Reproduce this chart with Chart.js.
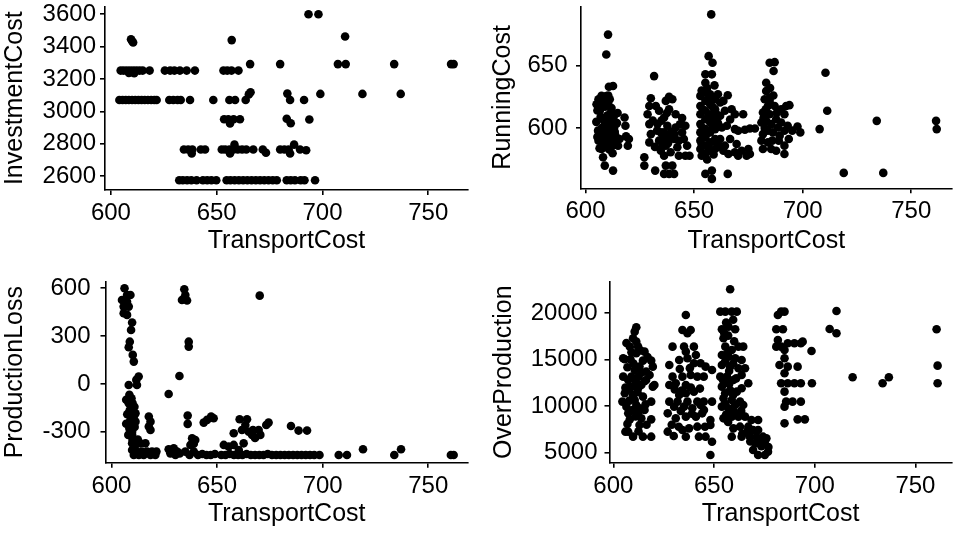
<!DOCTYPE html>
<html>
<head>
<meta charset="utf-8">
<script src="https://cdn.jsdelivr.net/npm/chart.js@4.4.1/dist/chart.umd.min.js"></script>
<style>
  html, body { margin: 0; padding: 0; background: #fff; }
  #wrap { position: relative; width: 956px; height: 535px; overflow: hidden; }
  canvas { position: absolute; }
</style>
</head>
<body>
<div id="wrap">
  <canvas id="investment" width="478" height="267" style="left:0;top:0"></canvas>
  <canvas id="running" width="478" height="267" style="left:478px;top:0"></canvas>
  <canvas id="loss" width="478" height="267" style="left:0;top:268px"></canvas>
  <canvas id="overprod" width="478" height="267" style="left:478px;top:268px"></canvas>
</div>
<script>
// tick values for each axis
const transportTicks = [600, 650, 700, 750]
const investmentTicks = [2600, 2800, 3000, 3200, 3400, 3600]
const runningTicks = [600, 650]
const lossTicks = [-300, 0, 300, 600]
const overProductionTicks = [5000, 10000, 15000, 20000]

// each entry: [TransportCost, value]
const investmentCost = [
  [693.4,3600],[698.1,3600],[710.7,3462],[609.5,3445],[610.5,3425],[610,3435],[657.1,3440],
  [665.8,3292],[680,3292],[707.3,3292],[711,3292],[733.9,3292],[760.8,3292],[762,3292],
  [604.6,3252],[606,3252],[607.5,3252],[609,3252],[610.5,3252],[612,3252],[613.5,3252],[615,3252],[618.3,3252],[608.5,3238],[611,3236],
  [625.5,3252],[628,3252],[630,3252],[632.6,3252],[635.8,3252],[639.7,3252],[653.2,3252],[655,3252],[657,3252],[660.3,3252],
  [665.2,3105],[666,3118],[683.4,3110],[699,3108],[718.9,3108],[737,3108],
  [604,3070],[605.5,3070],[607,3070],[608.5,3070],[610,3070],[611.5,3070],[613,3070],[614.5,3070],[616,3070],[617.5,3070],[619,3070],[620.5,3070],[621.6,3070],
  [627.6,3070],[629.5,3070],[631.5,3070],[633,3070],[637.4,3070],[648.4,3070],[656,3070],[658.7,3070],[663.7,3070],[684.7,3070],[691.3,3070],
  [653.5,2952],[655.5,2952],[658,2952],[661,2952],[656.3,2925],[683.1,2955],[685,2927],[693.8,2950],
  [634.5,2765],[636.5,2765],[638.5,2765],[642.5,2765],[644.5,2765],[638.2,2740],[652.4,2765],[654,2765],[656,2765],[658,2765],[660,2765],[662,2765],[664,2765],[667.3,2765],
  [658.4,2795],[656.3,2740],[671.8,2765],[673.3,2745],[680,2765],[682,2765],[684,2765],[686.6,2795],[684.7,2740],[689.4,2765],[692.3,2760],
  [632.3,2575],[634,2575],[636,2575],[638,2575],[640.5,2575],[643.5,2575],[645.5,2575],[647.5,2575],[649.8,2575],
  [654.7,2575],[656.5,2575],[658.5,2575],[660.5,2575],[662.5,2575],[664.5,2575],[666.5,2575],[668.5,2575],[670.5,2575],[672.5,2575],[674.5,2575],[676.5,2575],[678.4,2575],
  [683.1,2575],[685,2575],[687,2575],[689.7,2575],[691.5,2575],[696.5,2575]
]

const runningCost = [
  [610.4,674.6],[609.6,658.7],[612.7,633.6],[610.8,633],[608.1,576.7],[608.9,570.1],[612.7,566.1],
  [607.4,625.7],[609.6,625.5],[607.9,619],[605.1,619],[606.6,613.8],[611.2,623],[612,612.4],
  [605.5,614],[605,605],[605.8,598],[606,590],[606.5,584],[607,609],[607.5,600],[608,594],[608.5,587],[609,617],[609.2,603],[609.5,596],[610,610],[610.5,590],
  [611,583],[611.2,605],[611.5,598],[612,616],[612.2,592],[612.5,586],[613,609],[613.3,601],[613.8,594],[614,588],[614.5,604],[608,621],[610.5,626],[606,623],[614.8,612],
  [606.5,596],[608.5,606],[610,600],[611.5,612],[613.5,597],[607,592],[610.5,619],[609,589],[612.5,580],[605.5,593],
  [618,608.5],[618.4,601.9],[618.7,593.4],[620,591.3],[619.5,586],[615,586],[615.7,591.3],[607.4,583.3],[609.6,584.7],
  [631.6,641.5],[630.1,623.8],[629.4,617.7],[628.6,611.1],[629.4,603.2],[630.1,595.2],[629.4,588.6],[627.1,576.7],[627.1,570.1],
  [632.4,617.7],[633.9,613.8],[633.2,603.2],[634.7,596.6],[633.9,590],[634.7,582],[632.1,566.1],
  [637,621.7],[638.5,615.1],[636.2,608.5],[637.7,601.9],[636.2,596.6],[638.5,592.6],[637,586],[639.2,580.7],[636.2,578],
  [637,570.1],[636.2,563.5],[638.5,563.5],[640.8,563.5],[640,570.1],
  [640,623],[641.5,611.1],[641.5,600.5],[640.8,591.3],[642.3,584.7],[643,578],
  [644.5,596.6],[646,601.9],[645.3,591.3],[646.8,586],[646,578],[647.9,578],
  [638.5,625],[635,606],[639.5,597],[643,590],[635.5,586],
  [631,606],[633,598],[635.5,592],[638,588],[641,595],[643.5,603],[632,585],[637.5,612],[644.5,608],
  [657.9,690.7],[656.7,657.4],[658.5,652.1],[655.2,642.9],[658.2,642.9],[659.4,634.1],[655.2,636.2],
  [652.9,625.7],[652.9,617.7],[652.9,611.1],[652.9,603.2],[652.9,596.6],[652.9,590],[652.9,583.3],
  [655.2,628.3],[655.2,621.7],[655.2,613.8],[655.2,607.1],[655.2,599.2],[655.2,592.6],[655.2,586],[655.2,579.4],
  [657.4,627],[657.4,619],[657.4,611.1],[657.4,604.5],[657.4,596.6],[657.4,588.6],[657.4,582],
  [659.7,623],[659.7,615.1],[659.7,607.1],[659.7,599.2],[659.7,591.3],[659.7,583.3],
  [662,620.4],[662,609.8],[662.8,600.5],[662,591.3],[663.5,582],
  [653.5,630],[656,632],[654,615],[656.5,609],[658.5,601],[654,594],[656.5,585],[660.5,588],[653.5,587],[661,604],
  [658.5,617],[661,627],[654,600],[656,596],[660,612],[657,624],[659,579],[662.5,585],[656,575],[653.5,578],
  [655.2,563.5],[658.2,566.1],[658.2,559.5],[665.5,563.5],
  [665.5,626.2],[663.5,621.7],[664.2,613.8],[667.3,615.1],[668.8,611.1],[666.6,606.9],[665.1,601.9],[668.8,599.2],[670.3,597.9],[673.4,598.7],[675.7,599.7],[678,599.7],[672.6,611.1],
  [666.6,591.3],[669.6,587.3],[664.2,586],[665.8,579.4],[668.8,580.7],[671.9,582],[675,583.3],[675.7,579.4],[674.2,578],[670.3,578],
  [684.8,652.1],[687.1,652.6],[686.6,645.5],[683.2,636.2],
  [683.2,629.6],[682.5,623],[684.8,624.3],[684,617.7],[681.7,612.4],[684.8,611.1],[683.2,605.8],[681,604.5],[685.5,603.2],[687.8,607.1],[684,598],[681.7,595.2],
  [686.3,596.6],[681,590],[684,588.6],[681.7,583.3],[685.5,583.3],[687.8,582],[684.8,621.7],[687.1,617.7],[690.1,615.1],[692.4,617.7],[693.9,618.3],[691.6,611.1],
  [690.1,604.5],[688.6,600.5],[691.6,597.9],[693.1,601.9],[689.4,594],[691.6,586],[691.6,579.4],[697.6,601.3],[698.9,596.6],[695.2,598],[693.6,591.3],
  [682.5,600],[686,590],[683,615],[688,612],[689,590],[682,608],[686.5,626],[685,632],
  [710.5,644.2],[711.3,613.8],[707.8,599.2],[718.9,564.3],[734.1,605.8],[737.1,564.3],[761.4,605.8],[761.7,599.2]
]

const productionLoss = [
  [606.2,600],[607.4,558],[609,558],[605,527],[607.4,516],[605.8,485],[608.2,485],[605.8,443],[607.4,433],[609.8,385],[609.3,338],[608.7,265],[608.2,230],
  [610.1,182],[610.6,140],[612.9,46],[611.8,25],[612.1,-7],[608.2,-7],[608.5,-69],[608.2,-122],[608.7,-164],[609.8,-174],[609,-205],[610.6,-205],
  [608.7,-237],[610.3,-258],[609.8,-300],[610.9,-143],[611.4,-185],[611.4,-237],[609.8,-320],[608.5,-280],
  [607,-100],[609.5,-90],[607.5,-190],[610,-120],[607,-250],[611,-270],[608,-320],[612.5,-350],[610,-350],
  [609.8,-373],[611.4,-383],[613.7,-373],[616.1,-373],[609.8,-415],[612.1,-425],[614.5,-425],[616.9,-425],[619.2,-425],[621.3,-425],
  [610.6,-446],[613,-446],[615.3,-446],[618.5,-446],[620.8,-446],
  [617.7,-205],[618.5,-237],[617.7,-268],[618.5,-289],
  [627.1,-410],[629.5,-404],[631.1,-425],[627.9,-436],[630.3,-446],[632.3,-436],
  [634.5,594],[635,558],[633.4,527],[635.8,523],[634.5,537],[636.6,265],[636.6,234],[632.2,50],[627.1,-63],[636.1,-199],[636.1,-251],[638.2,-341],[639.7,-352],
  [635,-425],[637,-446],[639,-425],[641,-446],[643,-440],[645,-446],[647,-446],[649,-440],[637.4,-383],[639,-375],
  [643.7,-243],[645.3,-226],[647.2,-205],[648.4,-216],
  [652,-446],[654,-446],[656,-440],[658,-446],[660,-446],[662,-446],[664,-440],[666,-446],[668,-446],[670,-446],[672,-446],[674,-440],
  [676,-446],[678,-446],[680,-446],[682,-446],[684,-446],[686,-446],[688,-446],[690,-446],[692,-446],[694,-446],[696,-446],[698.5,-446],
  [653.2,-383],[655.5,-394],[657.9,-383],[660.3,-415],[662.6,-373],[657.9,-310],[660.7,-222],[664.2,-222],[663.4,-258],[661.8,-289],[665,-300],
  [666.6,-320],[667,-289],[669.7,-289],[670.5,-320],[668,-340],
  [673.3,-258],[674.4,-243],[670.2,554],[685,-264],[688.6,-293],[692.6,-293],
  [707.6,-446],[711.5,-446],[719.1,-410],[733.9,-446],[737.1,-410],[760.7,-446],[762,-446]
]

const overProduction = [
  [611.4,18493],[610.6,18027],[609.8,17309],[608.2,16412],[612.3,16412],[605.7,15048],[614.7,14905],[618.8,14905],[619.6,14259],[604.9,13183],[609,13183],
  [607.4,12824],[611.4,12465],[619.6,12106],[605.7,11389],[609.8,11210],[614.7,11030],[618.8,10492],[606.5,9954],[611.4,10133],[607.4,9236],[612.3,9236],
  [615.5,9595],[608.2,8590],[613.9,8698],[618.8,8590],[613,7980],[607.4,7263],[609.8,6725],[614.7,6725],[618.8,6725],
  [611.4,15694],[613,14259],[610.6,13900],[612.3,11927],[610.6,10671],[613,9774],[609,12106],[613.9,12286],[616.3,12824],[618,13362],[620.4,12286],
  [616.3,13721],[604.9,15156],[615.5,15874],[611.4,16950],[612.5,13183],[606,7263],[608.5,15048],
  [607,14200],[610,14600],[614,13600],[606,12000],[608,10600],[612,11500],[616,10200],[609.5,9600],[611,8900],[607,8100],
  [616.5,8000],[612.5,7300],[608,11800],[613.5,16000],[609,15800],[606.5,16800],[617,15300],[611,12800],[615.5,12700],[604.5,10500],
  [636,19821],[634.3,18206],[638.4,18206],[636.8,17847],[629.4,16412],[635.1,16412],[640,16412],[636,15874],[641,15515],[627.8,14439],[632.7,14977],
  [636.8,15156],[640,14618],[643.3,14618],[645.8,14259],[649,13900],[629.4,13183],[634.3,13183],[638.4,13362],[641.7,13183],[644.9,13183],[631,12465],
  [636,12286],[627.8,12286],[636,11389],[640,11568],[632.7,11210],[627.8,10492],[631.9,10492],[636.8,10492],[641.7,10492],[644.9,10492],[649,10492],
  [630.2,9954],[635.1,9954],[639.2,9774],[643.3,10133],[627,9236],[631,8698],[636,8878],[641,8878],[644.1,9236],[648.2,8518],[648.2,7980],
  [634.3,7442],[637.6,7621],[641.7,7801],[627,7263],[636,6725],[642.5,6725],[645.8,6725],[649,6186],[648.2,4750],
  [633,14000],[638,14100],[630.5,11800],[634,11700],[638.5,12000],[643,11900],[633.5,9500],[639,9200],[645,9600],[629,8000],[632.5,7800],[645.5,7800],[630,6800],
  [658,22583],[653.1,20179],[655.6,20179],[658.8,20179],[661.3,20179],[653.9,18278],[657.2,18565],[660.5,18278],[654.7,17309],[655.6,16412],[658.8,16053],
  [662.1,16412],[664.5,16412],[653.9,15515],[657.2,15335],[660.5,15156],[663.7,14977],[653.9,14439],[658,14259],[662.1,14080],[665.4,14080],[653.1,13183],
  [656.4,13183],[659.6,12824],[663.7,13362],[667,12465],[653.9,12106],[658,11748],[661.3,11568],[663.7,11927],[654.7,10851],[658.8,10671],[662.9,10492],
  [653.9,9954],[657.2,9774],[660.5,10133],[664.5,10133],[654.7,8698],[658.8,8878],[662.1,8878],[665.4,8878],[668.6,8518],[671.9,8518],
  [659.6,7621],[662.9,7801],[667,7801],[669.4,7442],[671.9,7442],[658.8,6725],[663.7,6725],[667.8,6725],[671.1,6725],[674.3,6725],[676,6545],
  [672.7,6366],[675.2,6186],[669.4,5289],[671.9,4750],[675.2,4750],[676.8,5110],
  [656,19000],[659.5,19300],[655,17900],[657,17600],[660,17000],[657,15800],[655.5,14800],[659.5,14600],[657.5,13800],[654.5,12800],[657.5,12400],
  [661,13000],[655.5,11400],[659.5,11200],[655.5,10300],[658.5,9600],[656,9100],[660.5,9300],[663.5,9500],[657,8300],[666.5,7300],[664,7000],
  [668,6200],[670.5,6000],[673.5,5700],[677,5600],
  [683.3,20179],[685,20179],[681.7,19821],[680.9,18278],[684.2,18278],[681.7,17130],[683.3,16412],[686.6,16771],[689.9,16771],[693.1,16771],[694,16950],
  [680.9,16412],[685,16053],[698.4,15946],[685,15156],[682.5,14439],[686.6,14259],[691.5,14259],[685,13542],[683.3,12465],[686.6,12465],[689.9,12465],
  [693.1,12465],[698.6,12465],[685,11568],[685.8,10492],[689,10492],[693.1,10492],[685,9954],[691.5,8590],[695.1,8590],[685,8160],
  [707.4,18314],[710.8,20251],[710.8,17847],[718.8,13111],[733.7,12465],[736.8,13111],[760.5,18278],[761,14367],[761,12465]
]

Chart.defaults.font.family = '"Liberation Sans", Arial, Helvetica, sans-serif'
Chart.defaults.color = '#000'

const axisBorder = { display: true, color: '#000', width: 1.6 }
const tickMarks = { display: true, drawOnChartArea: false, drawTicks: true, tickLength: 5, color: '#000', lineWidth: 1.6 }
const plain = v => String(v)
const fixedTicks = values => scale => { scale.ticks = values.map(v => ({ value: v })) }

function drawPanel(id, points, p) {
    new Chart(document.getElementById(id), {
        type: 'scatter',
        data: {
            datasets: [{
                data: points.map(d => ({ x: d[0], y: d[1] })),
                backgroundColor: '#000',
                borderWidth: 0,
                pointRadius: 4.3,
                pointHoverRadius: 4.3
            }]
        },
        options: {
            responsive: false,
            animation: false,
            events: [],
            layout: { padding: { left: 0, top: p.top, right: p.right, bottom: 0 } },
            plugins: { legend: { display: false }, tooltip: { enabled: false } },
            scales: {
                x: {
                    type: 'linear',
                    min: p.xMin,
                    max: p.xMax,
                    border: axisBorder,
                    grid: tickMarks,
                    afterBuildTicks: fixedTicks(transportTicks),
                    ticks: { padding: 4, maxRotation: 0, autoSkip: false, font: { size: 24 }, callback: plain },
                    title: { display: true, text: 'TransportCost', font: { size: 25 }, padding: { top: 0, bottom: p.xTitlePad } },
                    afterFit: s => { s.height = p.xAxisHeight; s.paddingLeft = 0; s.paddingRight = 0 }
                },
                y: {
                    type: 'linear',
                    min: p.yMin,
                    max: p.yMax,
                    border: axisBorder,
                    grid: tickMarks,
                    afterBuildTicks: fixedTicks(p.yTicks),
                    ticks: { padding: p.yTickPad, autoSkip: false, font: { size: 24 }, callback: plain },
                    title: { display: true, text: p.yTitle, font: { size: 25 }, padding: { top: p.yTitlePad, bottom: 0 } },
                    afterFit: s => { s.width = p.yAxisWidth; s.paddingTop = 0; s.paddingBottom = 0 }
                }
            }
        }
    })
}

drawPanel('investment', investmentCost, {
    top: 6.5, right: 10, yAxisWidth: 105, xAxisHeight: 77,
    xMin: 597.2, xMax: 768.8, yMin: 2515, yMax: 3647.5, yTicks: investmentTicks,
    yTitle: 'InvestmentCost', yTitlePad: 0.5, yTickPad: 4, xTitlePad: 10.7
})

drawPanel('running', runningCost, {
    top: 6.5, right: 0, yAxisWidth: 103, xAxisHeight: 78.7,
    xMin: 597.95, xMax: 768.6, yMin: 552, yMax: 697, yTicks: runningTicks,
    yTitle: 'RunningCost', yTitlePad: 10, yTickPad: 8.5, xTitlePad: 11
})

drawPanel('loss', productionLoss, {
    top: 13.7, right: 10, yAxisWidth: 105.5, xAxisHeight: 72.3,
    xMin: 597.2, xMax: 768.8, yMin: -494.6, yMax: 641.4, yTicks: lossTicks,
    yTitle: 'ProductionLoss', yTitlePad: 0, yTickPad: 10, xTitlePad: 6
})

drawPanel('overprod', overProduction, {
    top: 13.7, right: 0, yAxisWidth: 131.5, xAxisHeight: 72.3,
    xMin: 598.1, xMax: 768, yMin: 3924, yMax: 23400, yTicks: overProductionTicks,
    yTitle: 'OverProduction', yTitlePad: 11, yTickPad: 7, xTitlePad: 6
})
</script>
</body>
</html>
